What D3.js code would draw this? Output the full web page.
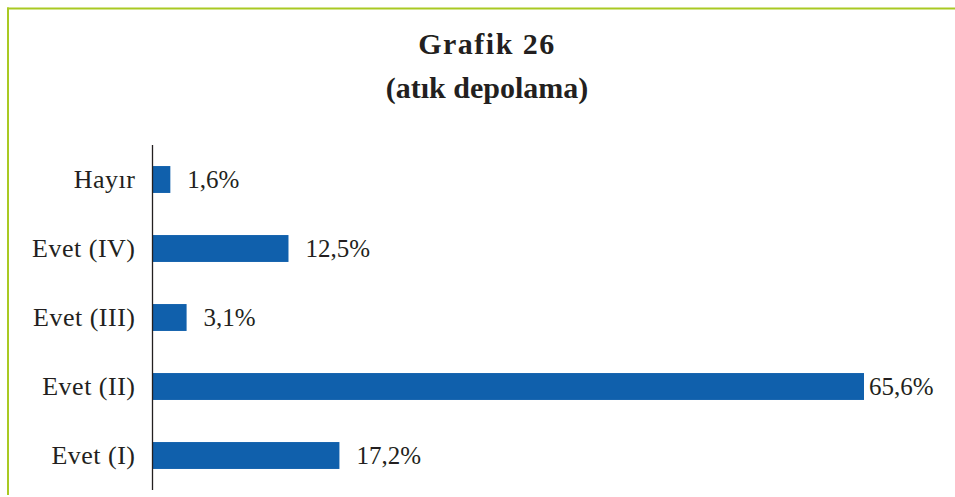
<!DOCTYPE html>
<html><head><meta charset="utf-8">
<script src="https://cdn.jsdelivr.net/npm/d3@7"></script>
<style>html,body{margin:0;padding:0;background:#fff;}svg{display:block;}</style>
</head><body>
<svg id="c" width="955" height="497"></svg>
<script>
const categories = ["Hayır", "Evet (IV)", "Evet (III)", "Evet (II)", "Evet (I)"];
const values = [1.6, 12.5, 3.1, 65.6, 17.2];
const valueLabels = ["1,6%", "12,5%", "3,1%", "65,6%", "17,2%"];
const titleLines = ["Grafik 26", "(atık depolama)"];

const FONT = "'Liberation Serif', 'Times New Roman', 'DejaVu Serif', serif";
const svg = d3.select("#c");
const W = 955, H = 497;
const green = "#a9c923";

// frame
svg.append("line").attr("x1", 7).attr("x2", W).attr("y1", 8.5).attr("y2", 8.5)
  .attr("stroke", green).attr("stroke-width", 2);
svg.append("line").attr("x1", 8).attr("x2", 8).attr("y1", 7.5).attr("y2", 495)
  .attr("stroke", green).attr("stroke-width", 2);

// title
svg.selectAll("text.title").data(titleLines).join("text")
  .attr("class", "title")
  .attr("x", 487).attr("y", (d, i) => 54 + i * 44)
  .attr("text-anchor", "middle")
  .style("font-family", FONT)
  .attr("font-weight", "bold").attr("font-size", 30)
  .attr("letter-spacing", (d, i) => i === 0 ? 1.5 : 0)
  .attr("fill", "#231f20")
  .text(d => d);

const x0 = 153;
const x = d3.scaleLinear().domain([0, 65.6]).range([x0, 864]);
const y = d3.scaleBand().domain(categories).range([145, 490]).paddingInner(0.61).paddingOuter(0.305);

const g = svg.append("g");
g.selectAll("rect").data(values).join("rect")
  .attr("x", x0).attr("y", (d, i) => y(categories[i]))
  .attr("width", d => x(d) - x0).attr("height", y.bandwidth())
  .attr("fill", "#1060ac");

// axis
const axis = d3.axisLeft(y).tickSize(0).tickPadding(17);
const ag = svg.append("g").attr("transform", `translate(${152.5},0)`).call(axis);
ag.attr("font-family", null).attr("font-size", null);
ag.select(".domain").attr("stroke", "#231f20").attr("stroke-width", 1.3)
  .attr("d", "M0,145V490");
ag.selectAll("text").style("font-family", FONT)
  .style("font-size", "26px").attr("letter-spacing", 0.5).attr("fill", "#231f20");

// value labels
g.selectAll("text.val").data(values).join("text")
  .attr("class", "val")
  .attr("x", d => Math.min(x(d) + 17, 869))
  .attr("y", (d, i) => y(categories[i]) + y.bandwidth() / 2)
  .attr("dy", "0.35em")
  .style("font-family", FONT)
  .style("font-size", "25px").attr("fill", "#231f20")
  .text((d, i) => valueLabels[i]);
</script>
</body></html>
